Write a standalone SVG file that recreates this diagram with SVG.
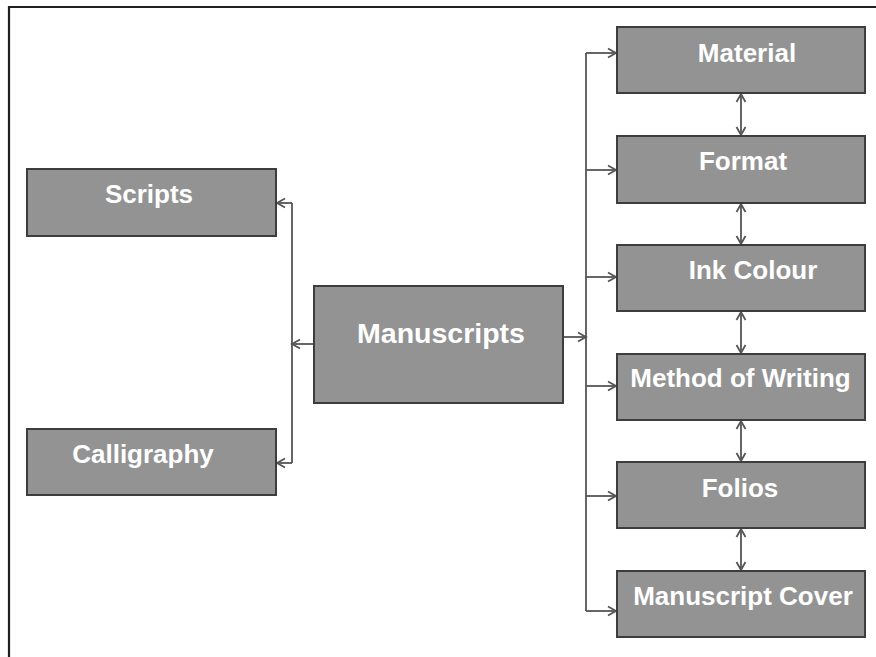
<svg xmlns="http://www.w3.org/2000/svg" width="876" height="657" viewBox="0 0 876 657">
  <style>
    .box { fill: #939393; stroke: #3d3d3d; stroke-width: 2; }
    .lbl { font-family: "Liberation Sans", Arial, sans-serif; font-weight: bold; font-size: 26px; fill: #ffffff; text-anchor: middle; }
    .big { font-size: 28.5px; }
    .wire { fill: none; stroke: #555555; stroke-width: 1.8; }
    .frame { fill: none; stroke: #231f20; stroke-width: 2.2; }
  </style>
  <defs>
    <marker id="arrow" markerUnits="userSpaceOnUse" markerWidth="12" markerHeight="12" refX="9" refY="5" orient="auto-start-reverse" viewBox="0 0 12 10">
      <path d="M1,0.5 L9,5 L1,9.5" fill="none" stroke="#555555" stroke-width="1.8"/>
    </marker>
  </defs>

  <rect width="876" height="657" fill="#ffffff"/>

  <!-- page frame: top and left rules -->
  <path class="frame" d="M9,657 V7 H876"/>

  <!-- connectors -->
  <g id="connectors">
    <!-- left branch -->
    <path class="wire" d="M292,203 V463"/>
    <path class="wire" d="M314,344 H292" marker-end="url(#arrow)"/>
    <path class="wire" d="M292,203 H277" marker-end="url(#arrow)"/>
    <path class="wire" d="M292,463 H277" marker-end="url(#arrow)"/>
    <!-- right branch -->
    <path class="wire" d="M563,337 H586" marker-end="url(#arrow)"/>
    <path class="wire" d="M586,53 V611"/>
    <path class="wire" d="M586,53 H616" marker-end="url(#arrow)"/>
    <path class="wire" d="M586,170 H616" marker-end="url(#arrow)"/>
    <path class="wire" d="M586,277 H616" marker-end="url(#arrow)"/>
    <path class="wire" d="M586,386 H616" marker-end="url(#arrow)"/>
    <path class="wire" d="M586,496 H616" marker-end="url(#arrow)"/>
    <path class="wire" d="M586,611 H616" marker-end="url(#arrow)"/>
    <!-- links between stacked boxes -->
    <path class="wire" d="M741,94 V135" marker-start="url(#arrow)" marker-end="url(#arrow)"/>
    <path class="wire" d="M741,204 V244" marker-start="url(#arrow)" marker-end="url(#arrow)"/>
    <path class="wire" d="M741,312 V353" marker-start="url(#arrow)" marker-end="url(#arrow)"/>
    <path class="wire" d="M741,421 V461" marker-start="url(#arrow)" marker-end="url(#arrow)"/>
    <path class="wire" d="M741,529 V570" marker-start="url(#arrow)" marker-end="url(#arrow)"/>
  </g>

  <g id="scripts">
    <rect class="box" x="27" y="169" width="249" height="67"/>
    <text class="lbl" x="149" y="203">Scripts</text>
  </g>
  <g id="calligraphy">
    <rect class="box" x="27" y="429" width="249" height="66"/>
    <text class="lbl" x="143" y="463">Calligraphy</text>
  </g>
  <g id="manuscripts">
    <rect class="box" x="314" y="286" width="249" height="117"/>
    <text class="lbl big" x="441" y="343">Manuscripts</text>
  </g>

  <g id="material">
    <rect class="box" x="617" y="27" width="248" height="66"/>
    <text class="lbl" x="747" y="62">Material</text>
  </g>
  <g id="format">
    <rect class="box" x="617" y="136" width="248" height="67"/>
    <text class="lbl" x="743" y="170">Format</text>
  </g>
  <g id="ink-colour">
    <rect class="box" x="617" y="245" width="248" height="66"/>
    <text class="lbl" x="753" y="279">Ink Colour</text>
  </g>
  <g id="method-of-writing">
    <rect class="box" x="617" y="354" width="248" height="66"/>
    <text class="lbl" x="740.5" y="387">Method of Writing</text>
  </g>
  <g id="folios">
    <rect class="box" x="617" y="462" width="248" height="66"/>
    <text class="lbl" x="740" y="497">Folios</text>
  </g>
  <g id="manuscript-cover">
    <rect class="box" x="617" y="571" width="248" height="66"/>
    <text class="lbl" x="743" y="605">Manuscript Cover</text>
  </g>
</svg>
